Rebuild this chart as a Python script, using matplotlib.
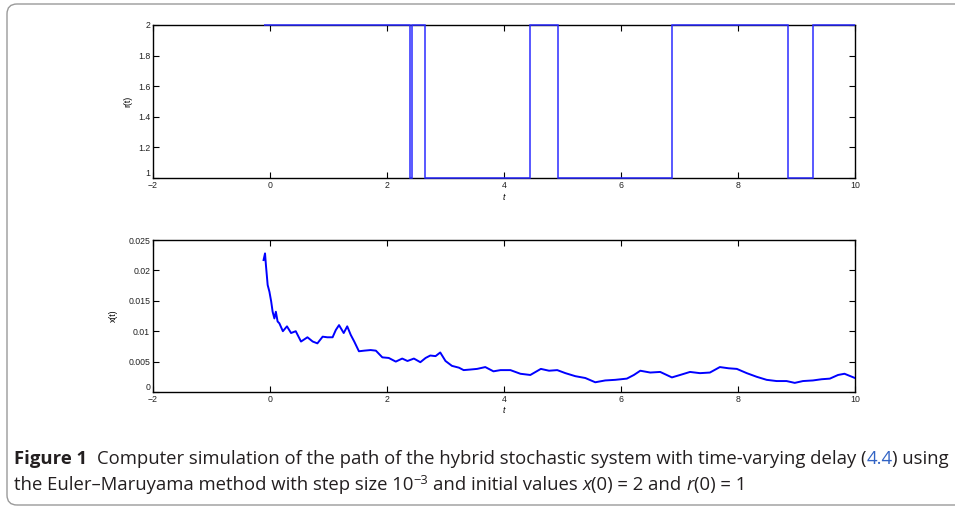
import matplotlib
matplotlib.use('Agg')
import matplotlib.pyplot as plt
from matplotlib.patches import FancyBboxPatch
from matplotlib.transforms import IdentityTransform
from matplotlib import font_manager

# ---------------- data ----------------
# Markov chain r(t): switching times and states
switch_times = [-0.1, 2.40, 2.42, 2.65, 4.44, 4.92, 6.87, 8.85, 9.28, 10.0]
r_states = [2, 1, 2, 1, 2, 1, 2, 1, 2]

# sample path x(t)
t_vals = [-0.11, -0.085, -0.07, -0.04, -0.01, 0.02, 0.045, 0.075, 0.10, 0.13,
          0.16, 0.22, 0.29, 0.36, 0.44, 0.53, 0.64, 0.73, 0.81, 0.90,
          0.98, 1.07, 1.125, 1.18, 1.26, 1.32, 1.38, 1.44, 1.52, 1.61,
          1.72, 1.81, 1.92, 2.03, 2.15, 2.26, 2.35, 2.46, 2.57, 2.66,
          2.74, 2.83, 2.91, 3.00, 3.11, 3.23, 3.31, 3.43, 3.54, 3.68,
          3.82, 3.94, 4.11, 4.28, 4.45, 4.63, 4.77, 4.91, 5.05, 5.22,
          5.39, 5.56, 5.73, 5.90, 6.10, 6.22, 6.33, 6.50, 6.67, 6.87,
          7.01, 7.18, 7.35, 7.52, 7.69, 7.84, 7.98, 8.15, 8.32, 8.49,
          8.66, 8.83, 8.97, 9.11, 9.28, 9.43, 9.57, 9.71, 9.82, 10.0]
x_vals = [0.0217, 0.0228, 0.0209, 0.0176, 0.0165, 0.0149, 0.0132, 0.0121, 0.0132, 0.0116,
          0.0113, 0.0100, 0.0108, 0.0097, 0.0100, 0.0083, 0.0090, 0.0083, 0.0080, 0.0091,
          0.0090, 0.0090, 0.0102, 0.0110, 0.0097, 0.0108, 0.0094, 0.0083, 0.0067, 0.0068,
          0.0069, 0.0068, 0.0057, 0.0056, 0.0050, 0.0055, 0.0051, 0.0055, 0.0049, 0.0056,
          0.0060, 0.0059, 0.0065, 0.0051, 0.0043, 0.0040, 0.0036, 0.0037, 0.0038, 0.0041,
          0.0034, 0.0036, 0.0036, 0.0030, 0.0028, 0.0038, 0.0035, 0.0036, 0.0031, 0.0026,
          0.0023, 0.0016, 0.0019, 0.0020, 0.0022, 0.0028, 0.0035, 0.0032, 0.0033, 0.0024,
          0.0028, 0.0033, 0.0031, 0.0032, 0.0041, 0.0039, 0.0038, 0.0031, 0.0025, 0.0020,
          0.0018, 0.0018, 0.0015, 0.0018, 0.0019, 0.0021, 0.0022, 0.0028, 0.0030, 0.0023]

x_ticks = [-2, 0, 2, 4, 6, 8, 10]
r_ticks = [1, 1.2, 1.4, 1.6, 1.8, 2]
r_ticklabels = ['1', '1.2', '1.4', '1.6', '1.8', '2']
xv_ticks = [0, 0.005, 0.01, 0.015, 0.02, 0.025]
xv_ticklabels = ['0', '0.005', '0.01', '0.015', '0.02', '0.025']

# ---------------- figure ----------------
W, H = 955, 509
fig = plt.figure(figsize=(W / 100, H / 100), dpi=100)

tick_font = 'Liberation Sans'

def style(ax):
    ax.tick_params(direction='in', top=True, right=True, length=4, width=0.8,
                   labelsize=6.3, pad=2, colors='black', labelcolor='#222222')
    for s in ax.spines.values():
        s.set_linewidth(1.0)
        s.set_color('black')
    for lab in ax.get_xticklabels() + ax.get_yticklabels():
        lab.set_fontfamily(tick_font)
    # lowest y tick label sits just above the corner, as in the reference
    ax.get_yticklabels()[0].set_verticalalignment('bottom')

ax1 = fig.add_axes([153 / W, 1 - 178 / H, 702 / W, 153 / H])
ax1.stairs(r_states, switch_times, baseline=None, color='#2b2bff', lw=1.1,
           zorder=3, clip_on=False)
ax1.set_xlim(-2, 10)
ax1.set_ylim(1, 2)
ax1.set_xticks(x_ticks)
ax1.set_xticklabels(['\u22122' if v < 0 else str(v) for v in x_ticks])
ax1.set_yticks(r_ticks)
ax1.set_yticklabels(r_ticklabels)
style(ax1)
ax1.set_xlabel('t', fontsize=6.3, fontstyle='italic', family=tick_font)
ax1.xaxis.set_label_coords(0.5, -0.095)
ax1.set_ylabel('r(t)', fontsize=6.3, family=tick_font)
ax1.yaxis.set_label_coords(-0.030, 0.5)

ax2 = fig.add_axes([153 / W, 1 - 392 / H, 702 / W, 152 / H])
ax2.plot(t_vals, x_vals, color='#0000ff', lw=1.4, zorder=3)
ax2.set_xlim(-2, 10)
ax2.set_ylim(0, 0.025)
ax2.set_xticks(x_ticks)
ax2.set_xticklabels(['\u22122' if v < 0 else str(v) for v in x_ticks])
ax2.set_yticks(xv_ticks)
ax2.set_yticklabels(xv_ticklabels)
style(ax2)
ax2.set_xlabel('t', fontsize=6.3, fontstyle='italic', family=tick_font)
ax2.xaxis.set_label_coords(0.5, -0.09)
ax2.set_ylabel('x(t)', fontsize=6.3, family=tick_font)
ax2.yaxis.set_label_coords(-0.050, 0.5)

# border
border = FancyBboxPatch((7, H - 505), 1000, 501,
                        boxstyle='round,pad=0,rounding_size=10',
                        transform=IdentityTransform(), facecolor='none',
                        edgecolor='#9a9a9a', lw=1.0)
fig.patches.append(border)

# ---------------- caption ----------------
def pick_font():
    for name in ['Liberation Sans Narrow', 'Open Sans', 'DejaVu Sans']:
        try:
            font_manager.findfont(font_manager.FontProperties(family=name),
                                  fallback_to_default=False)
            return name
        except Exception:
            continue
    return 'DejaVu Sans'

cap_font = pick_font()
renderer = fig.canvas.get_renderer()
TXT = '#231f20'
LINK = '#3163c4'

def width_of(s, size, **kw):
    t = fig.text(0, 0, s, fontsize=size, family=cap_font, **kw)
    w = t.get_window_extent(renderer).width
    t.remove()
    return w

def space_w(size):
    return width_of('a a', size) - width_of('aa', size)

def layout(pieces, x0, ybase, size, draw=True):
    x = x0
    sp = space_w(size)
    for p in pieces:
        if p[0] == 'gap':
            x += p[1] * sp
            continue
        s, kw = p
        kw = dict(kw)
        sz = size * kw.pop('scale', 1.0)
        rise = kw.pop('rise', 0.0) * size
        kw.setdefault('color', TXT)
        t = fig.text(x / W, 1 - (ybase - rise) / H, s, fontsize=sz, family=cap_font,
                     ha='left', va='baseline', **kw)
        w = t.get_window_extent(renderer).width
        if not draw:
            t.remove()
        x += w
    return x - x0

line1 = [('Figure 1', {'fontweight': 'bold'}), ('gap', 2),
         ('Computer simulation of the path of the hybrid stochastic system with time-varying delay (', {}),
         ('4.4', {'color': LINK}), (') using', {})]
line2 = [('the Euler\u2013Maruyama method with step size 10', {}),
         ('\u22123', {'scale': 0.7, 'rise': 0.45}), ('gap', 1),
         ('and initial values', {}), ('gap', 1), ('x', {'fontstyle': 'italic'}),
         ('(0) = 2 and', {}), ('gap', 1), ('r', {'fontstyle': 'italic'}), ('(0) = 1', {})]

base = 10.0
w10 = layout(line1, 14, 464, base, draw=False)
size = base * (934.0 / w10)
layout(line1, 14, 464, size)
layout(line2, 14, 490, size)

fig.savefig('out.png', dpi=100)
